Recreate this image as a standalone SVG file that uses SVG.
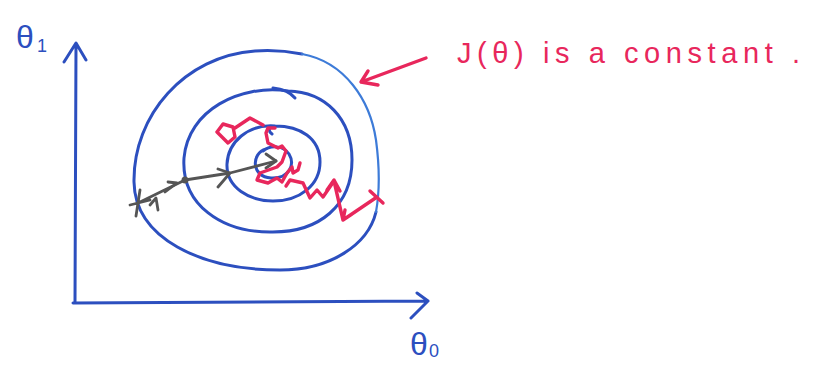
<svg xmlns="http://www.w3.org/2000/svg" width="817" height="371" viewBox="0 0 817 371">
<style>
.b{fill:none;stroke:#2c4fbf;stroke-width:3;stroke-linecap:round;stroke-linejoin:round}
.lb{fill:none;stroke:#3d7bd8;stroke-width:2.2;stroke-linecap:round}
.p{fill:none;stroke:#e8275c;stroke-width:3.4;stroke-linecap:round;stroke-linejoin:round}
.g{fill:none;stroke:#555;stroke-width:2.8;stroke-linecap:round;stroke-linejoin:round}
.tb{font-family:"Liberation Sans",Arial,sans-serif;fill:#2c4fbf}
.tp{font-family:"Liberation Sans",Arial,sans-serif;fill:#e8275c}
</style>
<rect width="817" height="371" fill="#fff"/>
<g id="axes">
<path class="b" d="M75 302 L76 44 M64 62 L76 43 L86 60"/>
<path class="b" d="M73 303 L428 301 M417 293 L428 301 L411 318"/>
<text class="tb" x="16" y="48" font-size="32">θ</text>
<text class="tb" x="37" y="52" font-size="18">1</text>
<text class="tb" x="410" y="355" font-size="32">θ</text>
<text class="tb" x="429" y="357" font-size="18">0</text>
</g>
<g id="contours">
<path class="b" d="M302 54 C282 50,268 50,255 51 C185 56,133 115,134 182 C135 238,200 270,280 270 C330 270,368 245,376 212"/>
<path class="lb" d="M302 54 C345 62,370 100,376 140 C380 170,380 190,376 212"/>
<path class="b" d="M288 91 C240 84,188 110,184 158 C181 205,222 232,270 232 C320 233,352 205,352 160 C352 118,325 92,288 91"/>
<path class="b" d="M273 88 C283 89,290 92,295 98"/>
<path class="b" d="M275 126 C248 124,228 142,227 164 C226 188,250 201,273 201 C300 201,320 185,320 162 C320 138,300 126,275 126 C268 127,268 131,272 134"/>
<path class="b" d="M266 149 C251 153,251 177,271 178 C290 179,295 164,289 154 C283 145,270 145,263 151"/>
</g>
<g id="descent">
<path class="g" d="M130 205 L150 200 M140 190 L136 216 M138 203 L185 180 L230 173 L276 161"/>
<path class="g" d="M150 205 L156 198 L158 210 M165 192 L177 183 L168 182"/>
<path class="g" d="M218 169 L230 173 L218 187 M266 154 L276 161 L266 168"/>
<circle cx="185" cy="180" r="3.5" fill="#555"/>
</g>
<g id="oscillation">
<path class="p" d="M377 197 L343 220 M370 191 L383 203 M343 220 L334 181 M327 190 L334 180 L340 191 M343 220 L352 214 M343 220 L345 210"/>
<path class="p" d="M334 181 L323 197 L317 190 L310 198 L303 183 L290 180 L286 186 M300 163 L298 170 L293 173 L292 167 L287 173 L282 182 L277 178 L268 183 L257 180 L260 173 L277 167 L282 162 L286 151 L282 146 L278 148 L268 143 L266 133 L268 128 L275 128"/>
<path class="p" d="M217 132 L223 124 L233 127 L235 137 L228 143 L217 132 M235 128 L250 118 L263 125"/>
</g>
<g id="annotation">
<path class="p" d="M426 58 L361 82 M368 71 L361 82 L378 85"/>
<text class="tp" x="457" y="63" font-size="29" textLength="343" lengthAdjust="spacing">J(θ) is a constant .</text>
</g>
</svg>
